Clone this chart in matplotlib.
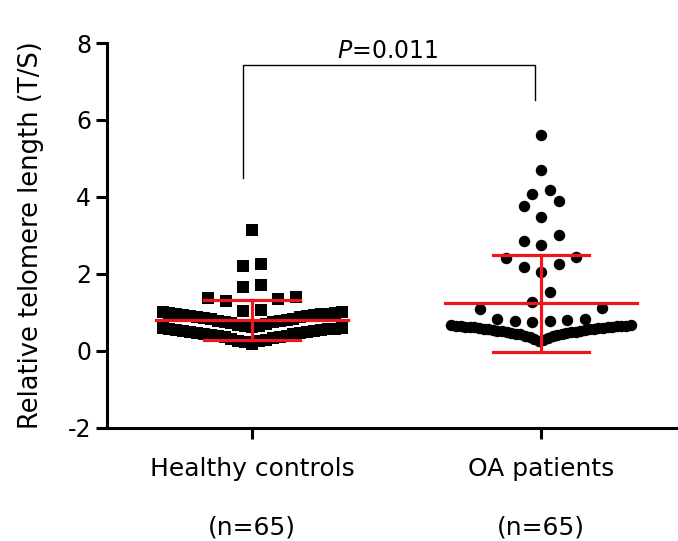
import matplotlib
matplotlib.use("Agg")
import matplotlib.pyplot as plt
import numpy as np

plt.rcParams['font.family'] = ['DejaVu Sans']
plt.rcParams['axes.unicode_minus'] = False

groups = ["Healthy controls", "OA patients"]
group_n = ["(n=65)", "(n=65)"]

# relative telomere length (T/S) per subject
healthy = [3.15, 2.21, 2.26, 1.66, 1.72, 1.04, 1.07, 1.30, 1.35, 1.38, 1.40,
           0.18, 0.22, 0.25, 0.27, 0.29, 0.31, 0.33, 0.35, 0.36, 0.38, 0.40,
           0.41, 0.43, 0.44, 0.46, 0.47, 0.49, 0.50, 0.51, 0.53, 0.54, 0.55,
           0.56, 0.57, 0.58, 0.59, 0.59,
           0.61, 0.64, 0.66, 0.68, 0.70, 0.72, 0.74, 0.76, 0.78, 0.79, 0.81,
           0.83, 0.84, 0.86, 0.87, 0.89, 0.90, 0.92, 0.93, 0.94, 0.95, 0.96,
           0.97, 0.98, 0.99, 1.00, 1.01]
oa = [5.60, 4.69, 4.19, 4.09, 3.90, 3.77, 3.49, 3.02, 2.86, 2.76, 2.45, 2.42,
      2.26, 2.19, 2.06, 1.53, 1.27, 1.12, 1.09,
      0.76, 0.77, 0.78, 0.80, 0.82, 0.84,
      0.26, 0.29, 0.32, 0.34, 0.36, 0.38, 0.40, 0.41, 0.43, 0.44, 0.45, 0.46,
      0.47, 0.48, 0.49, 0.50, 0.51, 0.52, 0.53, 0.54, 0.55, 0.56, 0.57, 0.57,
      0.58, 0.59, 0.60, 0.60, 0.61, 0.62, 0.62, 0.63, 0.63, 0.64, 0.65, 0.65,
      0.66, 0.66, 0.67, 0.67]

p_text = "$\\it{P}$=0.011"


def swarm(vals, row_h=0.42, step=0.0606, max_half=0.31):
    # prism-style rows: sorted values grouped in bands, spread out from centre
    vals = np.asarray(vals, dtype=float)
    order = np.argsort(vals, kind="stable")
    offs = np.zeros(len(vals))
    i = 0
    while i < len(order):
        start = vals[order[i]]
        j = i
        while j < len(order) and vals[order[j]] - start < row_h:
            j += 1
        row = order[i:j]
        k = len(row)
        s = step if (k - 1) * step <= 2 * max_half else 2 * max_half / (k - 1)
        for r, idx in enumerate(row):
            if k % 2 == 1:
                m = (r + 1) // 2
                offs[idx] = m * s * (-1 if r % 2 == 1 else 1)
            else:
                m = r // 2
                offs[idx] = (m + 0.5) * s * (-1 if r % 2 == 0 else 1)
        i = j
    return offs


fig = plt.figure(figsize=(6.78, 5.41), dpi=100)
ax = fig.add_axes([0.158, 0.209, 0.842, 0.7115])

for pos, vals, mk, ms in [(1, healthy, "s", 72), (2, oa, "o", 68)]:
    x = pos + swarm(vals)
    ax.scatter(x, vals, marker=mk, s=ms, color="black", linewidths=0, zorder=2)
    m = np.mean(vals)
    sd = np.std(vals, ddof=1)
    red = "#f2161c"
    ax.plot([pos - 0.332, pos + 0.332], [m, m], color=red, lw=2.3, zorder=3)
    ax.plot([pos, pos], [m - sd, m + sd], color=red, lw=2.3, zorder=3)
    for yy in (m - sd, m + sd):
        ax.plot([pos - 0.166, pos + 0.166], [yy, yy], color=red, lw=2.3, zorder=3)

# significance bracket
ax.plot([0.969, 0.969, 1.979, 1.979], [4.5, 7.42, 7.42, 6.51], color="black", lw=1.0)
ax.text(1.47, 7.48, p_text, ha="center", va="bottom", fontsize=17)

ax.set_xlim(0.498, 2.474)
ax.set_ylim(-2, 8)
ax.set_yticks([-2, 0, 2, 4, 6, 8])
ax.set_xticks([1, 2])
ax.set_xticklabels([g + "\n\n" + n for g, n in zip(groups, group_n)],
                   linespacing=1.28)
ax.set_ylabel("Relative telomere length (T/S)", fontsize=18.5, labelpad=17)

ax.spines["top"].set_visible(False)
ax.spines["right"].set_visible(False)
ax.spines["left"].set_linewidth(2.2)
ax.spines["bottom"].set_linewidth(2.2)
ax.tick_params(axis="both", width=2.2, length=8, labelsize=17)
ax.tick_params(axis="x", pad=13, labelsize=18)

fig.savefig("out.png", dpi=100)
